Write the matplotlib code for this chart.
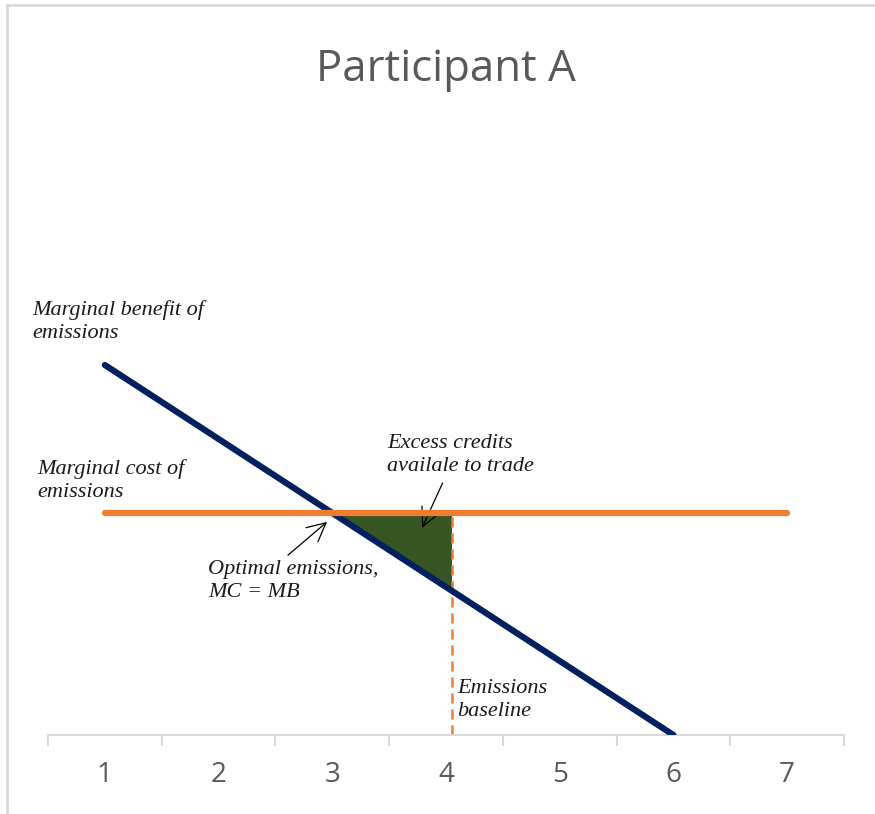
import matplotlib
matplotlib.use('Agg')
from matplotlib import pyplot as plt
from matplotlib.lines import Line2D
import numpy as np

# data
categories = ['1', '2', '3', '4', '5', '6', '7']
mb_x = [1, 2, 3, 4, 5, 6]
mb_y = [5, 4, 3, 2, 1, 0]          # marginal benefit of emissions
mc_x = [1, 2, 3, 4, 5, 6, 7]
mc_y = [3, 3, 3, 3, 3, 3, 3]       # marginal cost of emissions
baseline_x = 4.05                  # emissions baseline
optimal_x = 3                      # MC = MB

navy = '#002060'
orange = '#ED7D31'
green = '#375623'
gray_txt = '#595959'
gray_ax = '#D9D9D9'

W, H = 875, 814
fig = plt.figure(figsize=(W / 100, H / 100), dpi=100)
ax = fig.add_axes([48 / W, 1 - 735 / H, 796 / W, 635 / H])

# chart border (only top and left visible in the crop)
fig.add_artist(Line2D([7 / W, 1], [1 - 5 / H, 1 - 5 / H], transform=fig.transFigure,
                      color=gray_ax, lw=2))
fig.add_artist(Line2D([7 / W, 7 / W], [0, 1 - 5 / H], transform=fig.transFigure,
                      color=gray_ax, lw=2))

# green triangle: excess credits
mb_at_base = np.interp(baseline_x, mb_x, mb_y)
ax.fill([optimal_x, baseline_x, baseline_x], [mc_y[0], mc_y[0], mb_at_base],
        color=green, lw=0, zorder=2)

# baseline dashed line
ax.plot([baseline_x, baseline_x], [0, mc_y[0]], color=orange, lw=1.8,
        dashes=(4, 2.4), zorder=2)

ax.plot(mb_x, mb_y, color=navy, lw=4.5, solid_capstyle='round', zorder=3)
ax.plot(mc_x, mc_y, color=orange, lw=4.5, solid_capstyle='round', zorder=4)

ax.set_xlim(0.5, 7.5)
ax.set_ylim(0, 635 / 74)

for s in ['top', 'right', 'left']:
    ax.spines[s].set_visible(False)
ax.spines['bottom'].set_color(gray_ax)
ax.spines['bottom'].set_linewidth(1.5)
ax.set_yticks([])

ax.set_xticks(np.arange(0.5, 8, 1))
ax.set_xticklabels([])
ax.tick_params(axis='x', which='major', length=8, width=1.5, color=gray_ax)
ax.set_xticks(np.arange(1, 8), minor=True)
ax.set_xticklabels(categories, minor=True)
ax.tick_params(axis='x', which='minor', length=0, pad=19, labelsize=20, labelcolor=gray_txt)
for t in ax.get_xticklabels(minor=True):
    t.set_family('Open Sans')

fig.text(446 / W, 1 - 70 / H, 'Participant A', ha='center', va='center',
         fontsize=31.5, color=gray_txt, family='Open Sans')

# notes: y is the baseline of the last line
note = dict(fontsize=16, style='italic', family='Liberation Serif', color='#1a1a1a',
            linespacing=1.3, va='baseline', ha='left')
fig.text(32 / W, 1 - 338 / H, 'Marginal benefit of\nemissions', **note)
fig.text(37 / W, 1 - 497 / H, 'Marginal cost of\nemissions', **note)
fig.text(387 / W, 1 - 471 / H, 'Excess credits\navailale to trade', **note)
fig.text(208 / W, 1 - 597 / H, 'Optimal emissions,\nMC = MB', **note)
fig.text(457 / W, 1 - 716 / H, 'Emissions\nbaseline', **note)

arrow = dict(arrowstyle='->,head_length=0.6,head_width=0.3', color='black',
             lw=0.9, mutation_scale=22, shrinkA=0, shrinkB=0)
ax.annotate('', xy=(2.954, 2.88), xytext=(2.61, 2.43), arrowprops=arrow)
ax.annotate('', xy=(3.79, 2.80), xytext=(3.97, 3.405), arrowprops=arrow)

fig.savefig('out.png', dpi=100)
